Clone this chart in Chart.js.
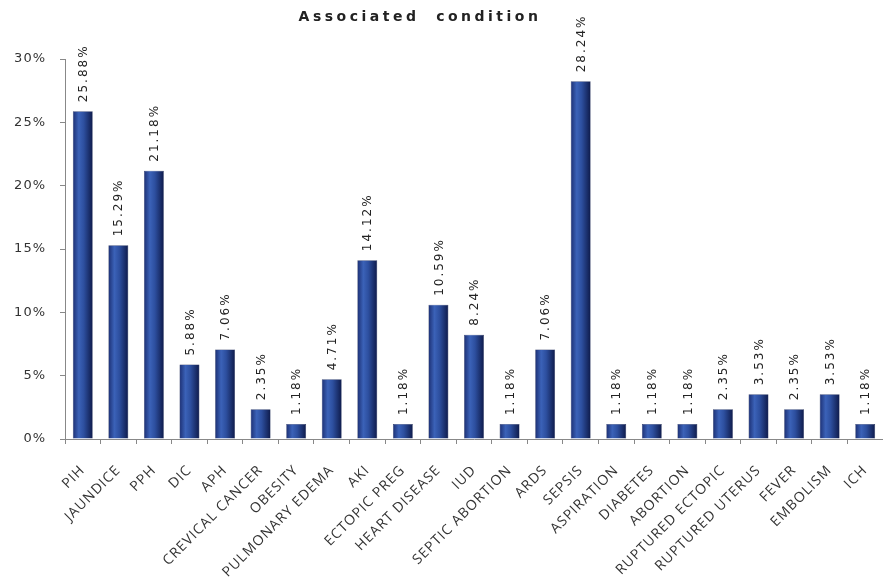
<!DOCTYPE html>
<html>
<head>
<meta charset="utf-8">
<script src="https://cdn.jsdelivr.net/npm/chart.js@4.4.1/dist/chart.umd.min.js"></script>
<style>
  html, body { margin: 0; padding: 0; background: #fff; }
  #wrap { width: 883px; height: 588px; }
</style>
</head>
<body>
<div id="wrap"><canvas id="chart" width="883" height="588"></canvas></div>
<script>
// ---- Data ----
const conditions = [
  'PIH', 'JAUNDICE', 'PPH', 'DIC', 'APH', 'CREVICAL CANCER', 'OBESITY',
  'PULMONARY EDEMA', 'AKI', 'ECTOPIC PREG', 'HEART DISEASE', 'IUD',
  'SEPTIC ABORTION', 'ARDS', 'SEPSIS', 'ASPIRATION', 'DIABETES', 'ABORTION',
  'RUPTURED ECTOPIC', 'RUPTURED UTERUS', 'FEVER', 'EMBOLISM', 'ICH'
];
const percentages = [
  25.88, 15.29, 21.18, 5.88, 7.06, 2.35, 1.18,
  4.71, 14.12, 1.18, 10.59, 8.24,
  1.18, 7.06, 28.24, 1.18, 1.18, 1.18,
  2.35, 3.53, 2.35, 3.53, 1.18
];
const yTicks = [0, 5, 10, 15, 20, 25, 30];
const chartTitle = 'Associated  condition';

const BAR_PCT = 0.56;

// cylinder-ish shading across each bar
function barGradient(context) {
  const chart = context.chart;
  const xs = chart.scales.x;
  if (!xs || context.dataIndex === undefined) return '#2b4c9c';
  const cx = xs.getPixelForValue(context.dataIndex);
  const half = (xs.getPixelForTick(1) - xs.getPixelForTick(0)) * BAR_PCT / 2;
  if (!isFinite(cx) || !isFinite(half) || half <= 0) return '#2b4c9c';
  const g = chart.ctx.createLinearGradient(cx - half, 0, cx + half, 0);
  g.addColorStop(0, '#1c2f73');
  g.addColorStop(0.3, '#3b62b8');
  g.addColorStop(0.55, '#2d4f9f');
  g.addColorStop(1, '#0e1a4a');
  return g;
}

// the axis text in the original is a little letter-spaced
const spacing = {
  id: 'spacing',
  beforeDraw(chart) { chart.ctx.save(); chart.ctx.letterSpacing = '1px'; },
  afterDraw(chart) { chart.ctx.restore(); }
};

const titlePlugin = {
  id: 'spacedTitle',
  afterDraw(chart) {
    const ctx = chart.ctx;
    ctx.save();
    ctx.font = "bold 14px 'DejaVu Sans'";
    ctx.letterSpacing = '3.5px';
    ctx.fillStyle = '#222';
    ctx.textAlign = 'center';
    ctx.textBaseline = 'middle';
    ctx.fillText(chartTitle, 420, 17);
    ctx.restore();
  }
};

const valueLabels = {
  id: 'valueLabels',
  afterDatasetsDraw(chart) {
    const ctx = chart.ctx;
    const meta = chart.getDatasetMeta(0);
    ctx.save();
    ctx.font = "12px 'DejaVu Sans'";
    ctx.letterSpacing = '2px';
    ctx.fillStyle = '#222';
    ctx.textAlign = 'left';
    ctx.textBaseline = 'middle';
    meta.data.forEach((bar, i) => {
      ctx.save();
      ctx.translate(bar.x + 1, bar.y - 9);
      ctx.rotate(-Math.PI / 2);
      ctx.fillText(percentages[i].toFixed(2) + '%', 0, 0);
      ctx.restore();
    });
    ctx.restore();
  }
};

new Chart(document.getElementById('chart'), {
  type: 'bar',
  data: {
    labels: conditions,
    datasets: [{
      data: percentages,
      backgroundColor: barGradient,
      borderColor: '#14214f',
      borderWidth: 0.5,
      barPercentage: BAR_PCT,
      categoryPercentage: 1
    }]
  },
  options: {
    responsive: false,
    animation: false,
    layout: { padding: { top: 59, right: 0, left: 0, bottom: 0 } },
    plugins: {
      legend: { display: false },
      tooltip: { enabled: false }
    },
    scales: {
      x: {
        grid: { drawOnChartArea: false, color: '#888', tickLength: 5, offset: true },
        border: { color: '#888' },
        ticks: {
          color: '#333',
          font: { family: "'Open Sans'", size: 14 },
          maxRotation: 45,
          minRotation: 45,
          autoSkip: false,
          padding: 18
        },
        afterFit(scale) {
          scale.height = 149;
          scale.paddingRight = 0;
          scale.paddingLeft = 0;
        }
      },
      y: {
        min: 0,
        max: 30,
        afterBuildTicks(scale) { scale.ticks = yTicks.map(v => ({ value: v })); },
        grid: { drawOnChartArea: false, color: '#888', tickLength: 5 },
        border: { color: '#888' },
        ticks: {
          color: '#333',
          font: { family: "'DejaVu Sans'", size: 13 },
          padding: 14,
          callback: v => v + '%'
        },
        afterFit(scale) { scale.width = 65; }
      }
    }
  },
  plugins: [spacing, titlePlugin, valueLabels]
});
</script>
</body>
</html>
